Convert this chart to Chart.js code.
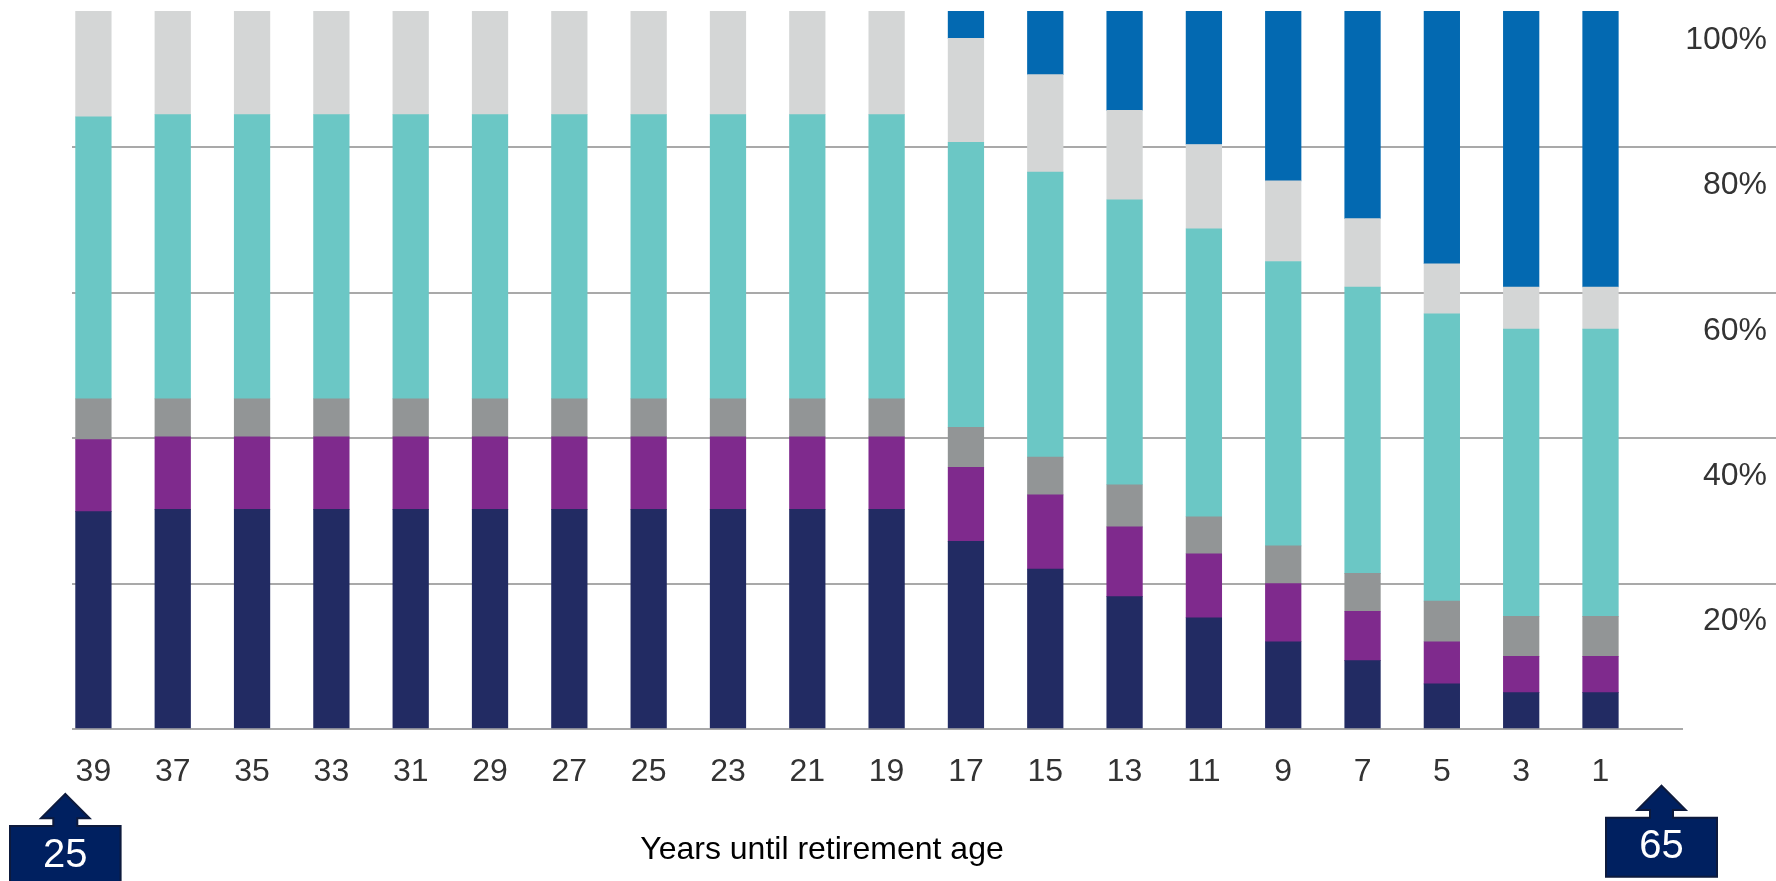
<!DOCTYPE html>
<html>
<head>
<meta charset="utf-8">
<title>Years until retirement age</title>
<script src="https://cdn.jsdelivr.net/npm/chart.js@4.4.1/dist/chart.umd.min.js"></script>
<style>
  html, body { margin: 0; padding: 0; background: #ffffff; }
  canvas { display: block; }
</style>
</head>
<body>
<canvas id="glide" width="1776" height="881"></canvas>
<script>
// Years remaining until retirement, one bar per step
const years = [39, 37, 35, 33, 31, 29, 27, 25, 23, 21, 19, 17, 15, 13, 11, 9, 7, 5, 3, 1];

// Allocation shares in percent, stacked bottom to top
const navyShare   = [29.9, 30.2, 30.2, 30.2, 30.2, 30.2, 30.2, 30.2, 30.2, 30.2, 30.2, 25.8, 22.0, 18.2, 15.3, 12.0, 9.4, 6.2, 5.0, 5.0];
const purpleShare = [9.9, 10.0, 10.0, 10.0, 10.0, 10.0, 10.0, 10.0, 10.0, 10.0, 10.0, 10.2, 10.2, 9.6, 8.8, 8.0, 6.8, 5.8, 5.0, 5.0];
const greyShare   = [5.6, 5.2, 5.2, 5.2, 5.2, 5.2, 5.2, 5.2, 5.2, 5.2, 5.2, 5.5, 5.2, 5.8, 5.1, 5.2, 5.2, 5.6, 5.5, 5.5];
const tealShare   = [38.8, 39.1, 39.1, 39.1, 39.1, 39.1, 39.1, 39.1, 39.1, 39.1, 39.1, 39.2, 39.2, 39.2, 39.6, 39.1, 39.4, 39.5, 39.5, 39.5];
const lightShare  = [15.8, 15.5, 15.5, 15.5, 15.5, 15.5, 15.5, 15.5, 15.5, 15.5, 15.5, 14.3, 13.4, 12.3, 11.6, 11.1, 9.4, 6.9, 5.8, 5.8];
const blueShare   = [0, 0, 0, 0, 0, 0, 0, 0, 0, 0, 0, 5.0, 10.0, 14.9, 19.6, 24.6, 29.8, 36.0, 39.2, 39.2];

// Right-hand axis labels for 0, 20, ... 100
const percentLabels = ['', '20%', '40%', '60%', '80%', '100%'];

const axisTitle = 'Years until retirement age';
const startAge = '25';
const endAge = '65';

const FONT = "'Liberation Sans', Arial, Helvetica, sans-serif";
const GRID = '#a9a9a9';
const NONE = 'rgba(0,0,0,0)';

const series = [
  { values: navyShare,   color: '#222b63' },
  { values: purpleShare, color: '#7f2a8d' },
  { values: greyShare,   color: '#929596' },
  { values: tealShare,   color: '#6bc7c5' },
  { values: lightShare,  color: '#d4d6d6' },
  { values: blueShare,   color: '#0369b1' }
];

// Arrow-callout boxes marking the start and end ages
function drawCallout(ctx, c) {
  const { cx, tip, headBase, boxTop, boxBottom, boxHalf, headHalf, stemHalf } = c;
  ctx.beginPath();
  ctx.moveTo(cx, tip);
  ctx.lineTo(cx + headHalf, headBase);
  ctx.lineTo(cx + stemHalf, headBase);
  ctx.lineTo(cx + stemHalf, boxTop);
  ctx.lineTo(cx + boxHalf, boxTop);
  ctx.lineTo(cx + boxHalf, boxBottom);
  ctx.lineTo(cx - boxHalf, boxBottom);
  ctx.lineTo(cx - boxHalf, boxTop);
  ctx.lineTo(cx - stemHalf, boxTop);
  ctx.lineTo(cx - stemHalf, headBase);
  ctx.lineTo(cx - headHalf, headBase);
  ctx.closePath();
  ctx.fillStyle = '#002060';
  ctx.fill();
  ctx.lineWidth = 2;
  ctx.strokeStyle = '#0d1a3d';
  ctx.stroke();
  ctx.fillStyle = '#ffffff';
  ctx.font = '40px ' + FONT;
  ctx.textAlign = 'center';
  ctx.textBaseline = 'middle';
  ctx.fillText(c.text, cx, c.textY);
}

// Axis caption and age callouts drawn over the finished chart
const annotations = {
  id: 'annotations',
  afterDraw(chart) {
    const ctx = chart.ctx;
    ctx.save();
    ctx.fillStyle = '#000000';
    ctx.font = '32px ' + FONT;
    ctx.textAlign = 'center';
    ctx.textBaseline = 'alphabetic';
    ctx.fillText(axisTitle, 822, 859);

    drawCallout(ctx, { cx: 65.3, tip: 794, headBase: 818.3, boxTop: 826, boxBottom: 892,
      boxHalf: 55.3, headHalf: 24.3, stemHalf: 12, text: startAge, textY: 856 });
    drawCallout(ctx, { cx: 1661.5, tip: 785.7, headBase: 810, boxTop: 817.7, boxBottom: 876.7,
      boxHalf: 55.5, headHalf: 24.2, stemHalf: 11.5, text: endAge, textY: 847 });
    ctx.restore();
  }
};

new Chart(document.getElementById('glide'), {
  type: 'bar',
  data: {
    labels: years,
    datasets: series.map(s => ({
      data: s.values,
      backgroundColor: s.color,
      borderWidth: 0,
      barThickness: 35.6,
      clip: { left: false, right: false, bottom: false, top: -9 }
    }))
  },
  options: {
    responsive: false,
    animation: false,
    devicePixelRatio: 1,
    layout: { padding: { left: 72, right: 9, top: 2, bottom: 0 } },
    plugins: {
      legend: { display: false },
      tooltip: { enabled: false }
    },
    scales: {
      x: {
        type: 'linear',
        reverse: true,
        offset: false,
        min: -1.08,
        max: 39.54,
        stacked: true,
        grid: { display: false, drawTicks: false, offset: false },
        border: { display: false },
        afterBuildTicks: scale => { scale.ticks = years.map(v => ({ value: v })); },
        afterFit: scale => {
          scale.height = 152;
          scale.paddingLeft = 0;
          scale.paddingRight = 0;
        },
        ticks: {
          autoSkip: false,
          maxRotation: 0,
          padding: 24,
          color: '#333333',
          font: { family: FONT, size: 32 },
          callback: v => String(v)
        }
      },
      y: {
        position: 'right',
        min: 0,
        max: 100,
        stacked: true,
        border: { display: false },
        grid: {
          lineWidth: 2,
          color: ctx => (ctx.tick && ctx.tick.value === 100 ? NONE : GRID),
          drawTicks: true,
          tickLength: 93,
          tickColor: ctx => (ctx.tick && (ctx.tick.value === 0 || ctx.tick.value === 100) ? NONE : GRID)
        },
        afterFit: scale => {
          scale.width = 84;
          scale.paddingTop = 0;
          scale.paddingBottom = 0;
        },
        ticks: {
          stepSize: 20,
          crossAlign: 'far',
          labelOffset: 38,
          color: '#333333',
          font: { family: FONT, size: 32 },
          callback: (v, i) => percentLabels[i]
        }
      }
    }
  },
  plugins: [annotations]
});
</script>
</body>
</html>
